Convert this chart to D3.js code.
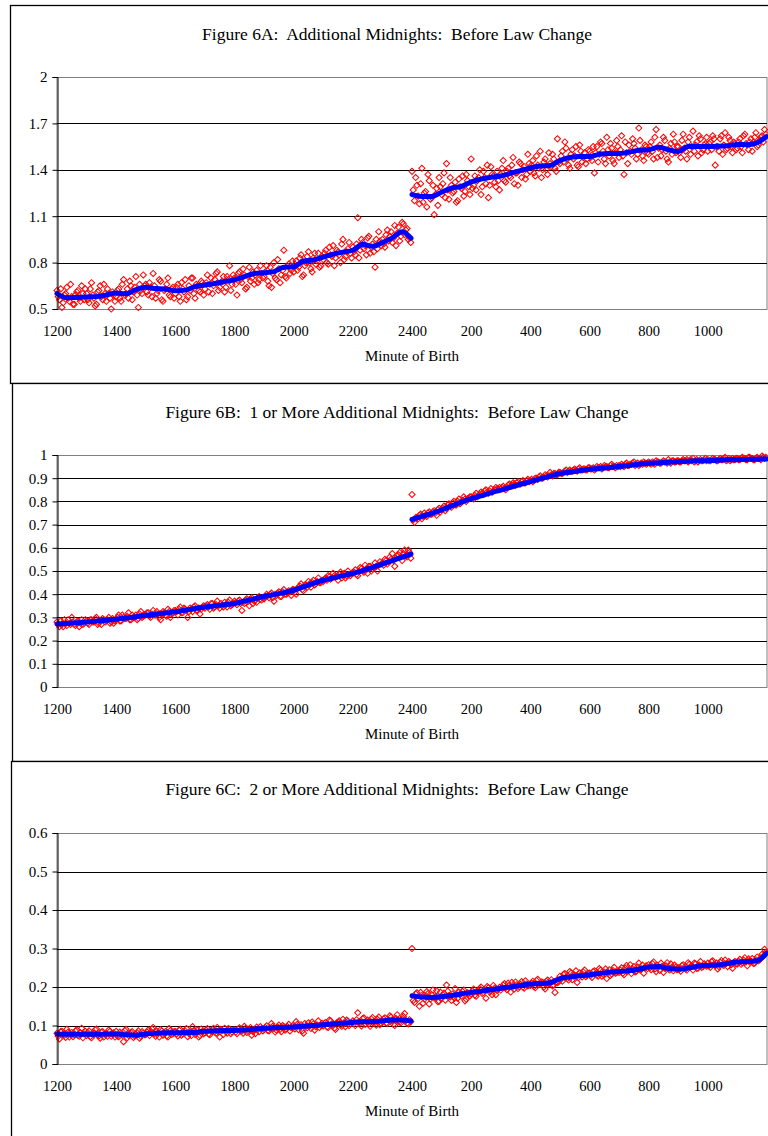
<!DOCTYPE html>
<html>
<head>
<meta charset="utf-8">
<script src="https://cdn.jsdelivr.net/npm/d3@7"></script>
<style>
body{margin:0;background:#fff;}
svg{display:block;}
text{font-family:"Liberation Serif","Times New Roman",serif;fill:#000;}
</style>
</head>
<body>
<svg></svg>
<script>
// minutes after noon, birth time axis runs noon to noon
var tickMinutes = [0,120,240,360,480,600,720,840,960,1080,1200,1320];
var tickLabels = ["1200","1400","1600","1800","2000","2200","2400","200","400","600","800","1000"];
var scatterMinutes = d3.range(0,1440,5);      // first set of points
var scatterMinutes2 = d3.range(2.5,1440,5);   // second set, between them
var lineMinutesBefore = d3.range(0,720,20).concat([718]);
var lineMinutesAfter = d3.range(720,1440,20).concat([1439]);
var xTitle = "Minute of Birth";

// figure 6A
var titleA = "Figure 6A:  Additional Midnights:  Before Law Change";
var yTicksA = [0.5,0.8,1.1,1.4,1.7,2];
var scatterA = [
  [0.62,0.56,0.51,0.59,0.64,0.55,0.58,0.53,0.61,0.57,0.65,0.56],
  [0.60,0.54,0.67,0.57,0.53,0.62,0.58,0.66,0.55,0.60,0.50,0.59],
  [0.58,0.63,0.55,0.69,0.60,0.57,0.65,0.61,0.71,0.51,0.62,0.72],
  [0.66,0.59,0.64,0.73,0.57,0.62,0.68,0.55,0.63,0.70,0.58,0.64],
  [0.60,0.66,0.55,0.63,0.69,0.58,0.62,0.70,0.57,0.65,0.61,0.67],
  [0.63,0.72,0.66,0.60,0.69,0.74,0.64,0.68,0.61,0.71,0.78,0.66],
  [0.70,0.59,0.74,0.67,0.72,0.64,0.77,0.70,0.66,0.75,0.69,0.73],
  [0.71,0.78,0.65,0.64,0.80,0.69,0.76,0.72,0.88,0.70,0.79,0.75],
  [0.74,0.81,0.77,0.85,0.72,0.80,0.87,0.76,0.83,0.79,0.86,0.78],
  [0.82,0.88,0.79,0.85,0.91,0.83,0.87,0.80,0.95,0.84,0.89,0.86],
  [0.90,0.85,1.09,0.88,0.93,0.91,0.96,0.86,0.92,0.77,0.89,0.94],
  [0.95,0.90,1.01,0.97,0.93,1.04,0.99,0.94,1.06,0.98,1.02,0.96],
  [1.39,1.20,1.30,1.18,1.41,1.25,1.16,1.33,1.22,1.11,1.28,1.35],
  [1.24,1.38,1.44,1.21,1.30,1.26,1.19,1.34,1.28,1.23,1.37,1.29],
  [1.47,1.30,1.27,1.35,1.24,1.39,1.31,1.22,1.42,1.36,1.29,1.33],
  [1.37,1.46,1.32,1.41,1.35,1.48,1.38,1.30,1.44,1.40,1.34,1.50],
  [1.39,1.46,1.36,1.43,1.52,1.40,1.47,1.37,1.44,1.50,1.41,1.60],
  [1.44,1.52,1.58,1.47,1.41,1.53,1.49,1.43,1.56,1.45,1.51,1.47],
  [1.52,1.46,1.38,1.55,1.50,1.57,1.47,1.61,1.49,1.54,1.44,1.59],
  [1.48,1.62,1.37,1.51,1.56,1.50,1.57,1.47,1.67,1.53,1.46,1.55],
  [1.50,1.58,1.47,1.66,1.54,1.49,1.61,1.52,1.45,1.57,1.63,1.51],
  [1.55,1.48,1.63,1.52,1.58,1.50,1.65,1.56,1.49,1.60,1.53,1.57],
  [1.52,1.58,1.62,1.43,1.55,1.60,1.50,1.64,1.54,1.59,1.51,1.57],
  [1.54,1.60,1.51,1.63,1.56,1.58,1.52,1.61,1.55,1.59,1.62,1.66]
];
var scatterA2 = [
  [0.58,0.63,0.54,0.60,0.57,0.66,0.53,0.59,0.62,0.55,0.60,0.63],
  [0.56,0.63,0.59,0.52,0.61,0.65,0.56,0.60,0.63,0.57,0.61,0.55],
  [0.62,0.57,0.66,0.59,0.63,0.68,0.56,0.64,0.59,0.66,0.60,0.65],
  [0.61,0.67,0.58,0.65,0.60,0.69,0.56,0.62,0.66,0.59,0.63,0.57],
  [0.64,0.58,0.67,0.61,0.56,0.65,0.70,0.60,0.66,0.62,0.68,0.59],
  [0.67,0.61,0.70,0.65,0.73,0.62,0.67,0.71,0.64,0.69,0.62,0.72],
  [0.66,0.73,0.69,0.76,0.63,0.71,0.68,0.74,0.72,0.67,0.78,0.70],
  [0.74,0.68,0.77,0.73,0.70,0.82,0.67,0.75,0.71,0.78,0.73,0.81],
  [0.79,0.75,0.83,0.71,0.78,0.84,0.80,0.74,0.86,0.81,0.77,0.84],
  [0.86,0.80,0.90,0.84,0.78,0.88,0.85,0.92,0.82,0.87,0.93,0.83],
  [0.87,0.92,0.83,0.95,0.89,0.85,0.97,0.90,0.87,0.95,1.00,0.91],
  [0.92,0.98,0.94,1.00,0.96,0.91,1.03,0.97,1.05,1.01,0.95,0.93],
  [1.27,1.35,1.23,1.31,1.19,1.26,1.37,1.21,1.30,1.24,1.17,1.29],
  [1.31,1.22,1.27,1.35,1.25,1.32,1.20,1.29,1.36,1.26,1.33,1.24],
  [1.28,1.36,1.33,1.40,1.29,1.35,1.43,1.30,1.37,1.32,1.39,1.27],
  [1.41,1.33,1.39,1.36,1.43,1.31,1.38,1.45,1.35,1.42,1.37,1.44],
  [1.43,1.38,1.49,1.41,1.35,1.45,1.40,1.51,1.42,1.47,1.39,1.45],
  [1.49,1.45,1.54,1.43,1.50,1.47,1.55,1.42,1.52,1.48,1.44,1.53],
  [1.48,1.55,1.51,1.45,1.58,1.52,1.44,1.53,1.57,1.46,1.51,1.55],
  [1.53,1.49,1.58,1.44,1.52,1.60,1.54,1.50,1.59,1.49,1.56,1.51],
  [1.55,1.52,1.61,1.48,1.56,1.53,1.59,1.47,1.54,1.50,1.58,1.55],
  [1.51,1.59,1.54,1.47,1.61,1.55,1.52,1.58,1.62,1.51,1.56,1.61],
  [1.57,1.53,1.60,1.55,1.52,1.62,1.56,1.53,1.61,1.55,1.58,1.53],
  [1.58,1.55,1.62,1.57,1.53,1.60,1.58,1.64,1.56,1.61,1.58,1.63]
];
var lineBeforeA = [0.60,0.572,0.575,0.578,0.58,0.59,0.603,0.598,0.625,0.64,0.632,0.63,
  0.618,0.622,0.645,0.655,0.665,0.678,0.688,0.71,0.73,0.735,0.742,0.77,
  0.773,0.81,0.817,0.835,0.855,0.868,0.88,0.918,0.905,0.93,0.96,1.0,0.958];
var lineAfterA = [1.24,1.228,1.228,1.255,1.282,1.292,1.322,1.34,1.352,1.36,1.378,1.395,
  1.412,1.425,1.428,1.46,1.48,1.486,1.486,1.5,1.505,1.505,1.515,1.526,
  1.53,1.545,1.53,1.518,1.55,1.55,1.55,1.552,1.556,1.564,1.562,1.575,1.615];

// figure 6B
var titleB = "Figure 6B:  1 or More Additional Midnights:  Before Law Change";
var yTicksB = [0,0.1,0.2,0.3,0.4,0.5,0.6,0.7,0.8,0.9,1];
var scatterB = [
  [.28,.26,.27,.29,.265,.275,.30,.27,.28,.26,.29,.275],
  [.285,.27,.29,.28,.30,.275,.27,.29,.285,.30,.28,.275],
  [.29,.31,.285,.30,.295,.32,.29,.30,.31,.295,.325,.305],
  [.31,.32,.30,.33,.31,.315,.29,.325,.31,.335,.30,.32],
  [.33,.31,.345,.32,.335,.30,.34,.325,.35,.33,.315,.345],
  [.34,.355,.335,.36,.345,.37,.34,.35,.365,.345,.375,.355],
  [.37,.355,.375,.33,.36,.38,.35,.385,.37,.365,.39,.375],
  [.38,.40,.385,.405,.37,.395,.41,.39,.42,.40,.415,.395],
  [.42,.40,.43,.445,.415,.44,.455,.43,.46,.445,.47,.45],
  [.455,.47,.48,.465,.49,.475,.46,.495,.485,.47,.50,.48],
  [.49,.505,.48,.515,.50,.525,.49,.52,.51,.535,.50,.54],
  [.535,.55,.53,.56,.575,.52,.565,.58,.545,.59,.56,.58],
  [.83,.71,.73,.74,.725,.75,.735,.755,.745,.76,.74,.77],
  [.765,.78,.77,.79,.775,.80,.785,.81,.795,.82,.80,.815],
  [.82,.81,.835,.825,.84,.83,.85,.835,.855,.845,.86,.85],
  [.855,.865,.85,.87,.865,.88,.87,.885,.875,.89,.88,.895],
  [.89,.885,.90,.895,.91,.90,.915,.905,.925,.91,.92,.915],
  [.925,.92,.93,.925,.935,.93,.94,.93,.945,.935,.94,.935],
  [.945,.94,.935,.95,.945,.94,.955,.95,.945,.96,.95,.955],
  [.955,.96,.95,.965,.955,.96,.97,.96,.955,.965,.97,.96],
  [.97,.96,.965,.975,.97,.965,.975,.97,.98,.965,.975,.97],
  [.975,.97,.98,.975,.97,.98,.985,.975,.97,.98,.975,.985],
  [.98,.975,.985,.98,.975,.985,.98,.99,.98,.975,.985,.98],
  [.985,.98,.99,.985,.98,.99,.985,.98,.99,.985,.995,.985]
];
var scatterB2 = [
  [.27,.285,.26,.275,.29,.27,.28,.265,.285,.275,.27,.29],
  [.275,.29,.28,.295,.27,.285,.295,.28,.29,.275,.295,.285],
  [.30,.285,.31,.295,.305,.29,.31,.30,.29,.315,.30,.31],
  [.32,.305,.315,.31,.325,.30,.315,.32,.305,.325,.315,.33],
  [.325,.335,.32,.34,.33,.325,.335,.345,.33,.34,.335,.35],
  [.35,.345,.36,.34,.355,.35,.36,.345,.355,.365,.35,.36],
  [.365,.37,.36,.365,.375,.37,.38,.36,.375,.385,.38,.385],
  [.39,.395,.40,.385,.40,.405,.39,.41,.40,.405,.41,.42],
  [.41,.425,.435,.42,.44,.43,.445,.45,.44,.455,.45,.46],
  [.465,.46,.475,.47,.48,.475,.485,.47,.49,.48,.485,.49],
  [.495,.485,.50,.51,.495,.51,.52,.50,.515,.52,.525,.53],
  [.525,.545,.54,.55,.545,.555,.57,.56,.575,.565,.59,.555],
  [.72,.73,.725,.745,.735,.74,.75,.745,.755,.75,.765,.755],
  [.77,.76,.785,.78,.795,.785,.80,.79,.805,.81,.81,.82],
  [.815,.825,.82,.83,.835,.845,.84,.845,.84,.85,.855,.86],
  [.86,.855,.86,.875,.87,.875,.88,.875,.885,.88,.89,.885],
  [.895,.89,.90,.905,.90,.905,.91,.91,.915,.92,.915,.925],
  [.92,.925,.935,.93,.93,.935,.935,.94,.935,.94,.935,.945],
  [.94,.945,.94,.945,.95,.945,.95,.945,.955,.95,.945,.95],
  [.95,.955,.96,.955,.96,.965,.955,.965,.96,.96,.965,.965],
  [.965,.97,.96,.97,.965,.97,.97,.965,.97,.975,.97,.975],
  [.97,.975,.975,.98,.975,.975,.97,.98,.975,.975,.98,.975],
  [.975,.98,.98,.975,.98,.98,.985,.975,.985,.98,.98,.985],
  [.98,.985,.985,.98,.99,.985,.98,.985,.985,.98,.99,.99]
];
var lineBeforeB = [.272,.274,.277,.280,.284,.288,.292,.297,.303,.309,.314,.319,
  .324,.331,.338,.345,.350,.355,.360,.370,.380,.390,.398,.407,
  .417,.432,.447,.460,.470,.480,.490,.502,.516,.530,.545,.560,.573];
var lineAfterB = [.722,.735,.748,.763,.780,.797,.812,.824,.837,.849,.861,.873,
  .885,.897,.909,.920,.926,.932,.938,.942,.946,.950,.955,.960,
  .964,.966,.969,.971,.973,.975,.976,.977,.979,.980,.981,.982,.983];

// figure 6C
var titleC = "Figure 6C:  2 or More Additional Midnights:  Before Law Change";
var yTicksC = [0,0.1,0.2,0.3,0.4,0.5,0.6];
var scatterC = [
  [.080,.065,.085,.075,.090,.070,.082,.076,.088,.072,.093,.078],
  [.074,.086,.068,.080,.091,.073,.083,.070,.079,.088,.072,.081],
  [.085,.071,.079,.058,.090,.074,.082,.069,.077,.086,.072,.080],
  [.076,.088,.083,.095,.072,.081,.089,.075,.084,.070,.087,.079],
  [.084,.073,.090,.079,.086,.071,.083,.097,.077,.088,.074,.085],
  [.081,.092,.076,.089,.084,.095,.070,.087,.093,.080,.090,.083],
  [.088,.079,.094,.085,.098,.082,.091,.075,.089,.096,.084,.092],
  [.090,.099,.086,.105,.093,.088,.101,.084,.097,.091,.103,.094],
  [.095,.110,.089,.102,.080,.098,.107,.092,.104,.097,.112,.100],
  [.099,.108,.095,.112,.104,.090,.109,.101,.116,.097,.111,.105],
  [.112,.100,.133,.106,.118,.103,.114,.098,.121,.108,.116,.102],
  [.110,.120,.105,.125,.113,.100,.128,.109,.117,.131,.106,.115],
  [.300,.160,.185,.150,.178,.168,.188,.156,.180,.172,.190,.163],
  [.170,.184,.205,.178,.165,.172,.160,.186,.176,.192,.168,.183],
  [.182,.195,.176,.190,.200,.185,.171,.198,.189,.204,.180,.194],
  [.192,.205,.198,.210,.187,.202,.213,.196,.207,.200,.216,.203],
  [.204,.215,.198,.220,.207,.212,.195,.218,.209,.203,.186,.211],
  [.228,.215,.235,.222,.240,.219,.231,.212,.237,.226,.244,.230],
  [.236,.225,.242,.231,.248,.228,.239,.222,.245,.234,.251,.237],
  [.238,.250,.232,.256,.244,.235,.253,.241,.262,.247,.236,.255],
  [.258,.245,.265,.240,.252,.262,.238,.255,.247,.260,.242,.251],
  [.250,.241,.258,.247,.263,.252,.244,.260,.249,.266,.253,.257],
  [.262,.251,.268,.255,.247,.264,.258,.270,.253,.263,.249,.266],
  [.260,.272,.263,.276,.255,.269,.274,.262,.278,.270,.285,.298]
];
var scatterC2 = [
  [.072,.084,.078,.069,.083,.077,.071,.086,.074,.081,.068,.085],
  [.082,.071,.076,.089,.075,.067,.084,.077,.072,.085,.078,.070],
  [.073,.083,.075,.087,.068,.079,.084,.073,.081,.067,.084,.076],
  [.083,.074,.091,.078,.085,.070,.086,.080,.073,.092,.077,.084],
  [.078,.088,.075,.083,.092,.079,.074,.087,.081,.070,.091,.079],
  [.088,.078,.085,.093,.080,.086,.090,.077,.084,.092,.079,.088],
  [.083,.091,.086,.080,.093,.087,.095,.084,.079,.090,.097,.086],
  [.095,.087,.092,.098,.083,.096,.090,.100,.088,.097,.086,.099],
  [.091,.103,.097,.086,.105,.094,.099,.109,.088,.101,.095,.106],
  [.106,.096,.114,.100,.093,.107,.112,.098,.105,.114,.100,.108],
  [.105,.115,.109,.099,.120,.111,.104,.117,.110,.101,.122,.106],
  [.117,.106,.114,.122,.103,.118,.111,.107,.124,.113,.104,.110],
  [.165,.182,.170,.186,.158,.176,.183,.169,.192,.175,.162,.187],
  [.180,.166,.189,.174,.182,.196,.171,.180,.188,.164,.185,.177],
  [.190,.179,.186,.196,.183,.193,.201,.187,.180,.197,.191,.199],
  [.198,.209,.193,.204,.212,.195,.206,.201,.214,.197,.208,.205],
  [.210,.201,.217,.206,.213,.200,.215,.208,.219,.205,.212,.214],
  [.221,.233,.226,.218,.236,.229,.242,.224,.232,.239,.227,.235],
  [.230,.240,.235,.228,.244,.233,.247,.238,.230,.243,.236,.241],
  [.244,.236,.249,.241,.258,.246,.239,.252,.245,.257,.250,.248],
  [.250,.261,.247,.256,.243,.254,.249,.263,.244,.252,.257,.245],
  [.246,.256,.251,.244,.259,.255,.262,.248,.257,.251,.260,.254],
  [.255,.266,.259,.262,.253,.269,.256,.261,.266,.258,.264,.260],
  [.267,.259,.270,.265,.273,.266,.261,.271,.268,.276,.280,.290]
];
var lineBeforeC = [.078,.077,.077,.077,.077,.078,.078,.076,.075,.078,.080,.081,
  .081,.082,.082,.085,.086,.087,.087,.088,.090,.093,.094,.095,
  .096,.098,.100,.102,.104,.106,.108,.110,.110,.112,.114,.114,.112];
var lineAfterC = [.177,.174,.173,.175,.178,.182,.186,.189,.193,.197,.200,.204,
  .208,.209,.211,.222,.226,.229,.232,.235,.238,.240,.242,.246,
  .252,.253,.248,.246,.249,.254,.256,.257,.261,.265,.266,.268,.288];

//layout of the three boxes
var screen = {width:768, height:1136};
var plotLeft = 57, plotRight = 767;

var panels = [
  {title:titleA, yTicks:yTicksA, scatter:scatterA, scatter2:scatterA2, before:lineBeforeA, after:lineAfterA,
   boxX:10.5, boxTop:5.5, boxBottom:383.5, titleY:40, plotTop:77, plotBottom:309},
  {title:titleB, yTicks:yTicksB, scatter:scatterB, scatter2:scatterB2, before:lineBeforeB, after:lineAfterB,
   boxX:12.5, boxTop:383.5, boxBottom:761.5, titleY:418, plotTop:455, plotBottom:687},
  {title:titleC, yTicks:yTicksC, scatter:scatterC, scatter2:scatterC2, before:lineBeforeC, after:lineAfterC,
   boxX:11.5, boxTop:761.5, boxBottom:1150, titleY:795, plotTop:833, plotBottom:1064}
];

var svg = d3.select('svg')
          .attr('width',screen.width)
          .attr('height',screen.height);

var xScale = d3.scaleLinear()
            .domain([0,1440])
            .range([plotLeft,plotRight]);

var diamond = d3.symbol().type(d3.symbolSquare).size(19);

var drawPanel = function(p)
{
  var g = svg.append('g').classed('panel',true);

  g.append('rect')
   .attr('x',p.boxX)
   .attr('y',p.boxTop)
   .attr('width',800)
   .attr('height',p.boxBottom-p.boxTop)
   .attr('fill','#fff')
   .attr('stroke','#000')
   .attr('stroke-width',1.3);

  g.append('text')
   .attr('x',397)
   .attr('y',p.titleY)
   .attr('text-anchor','middle')
   .style('font-size','17.5px')
   .style('white-space','pre')
   .text(p.title);

  var yScale = d3.scaleLinear()
              .domain(d3.extent(p.yTicks))
              .range([p.plotBottom,p.plotTop]);

  // plot area border
  g.append('rect')
   .attr('x',plotLeft)
   .attr('y',p.plotTop+0.5)
   .attr('width',plotRight-plotLeft)
   .attr('height',p.plotBottom-p.plotTop)
   .attr('fill','none')
   .attr('stroke','#808080');

  // gridlines
  g.selectAll('.grid')
   .data(p.yTicks.slice(1,-1))
   .enter()
   .append('line')
   .classed('grid',true)
   .attr('x1',plotLeft)
   .attr('x2',plotRight)
   .attr('y1',function(d){return Math.round(yScale(d))+0.5;})
   .attr('y2',function(d){return Math.round(yScale(d))+0.5;})
   .attr('stroke','#000');

  // points, two interleaved sets
  var pts = d3.merge(p.scatter).map(function(v,i)
  {
    return {m:scatterMinutes[i], v:v};
  }).concat(d3.merge(p.scatter2).map(function(v,i)
  {
    return {m:scatterMinutes2[i], v:v};
  }));
  g.append('g').selectAll('path')
   .data(pts)
   .enter()
   .append('path')
   .attr('d',diamond)
   .attr('transform',function(d)
   {
     return 'translate('+xScale(d.m)+','+yScale(d.v)+') rotate(45)';
   })
   .attr('fill','none')
   .attr('stroke','#ff0000')
   .attr('stroke-width',1);

  var line = d3.line()
              .x(function(d){return xScale(d.m);})
              .y(function(d){return yScale(d.v);})
              .curve(d3.curveMonotoneX);
  var segs = [
    lineMinutesBefore.map(function(m,i){return {m:m, v:p.before[i]};}),
    lineMinutesAfter.map(function(m,i){return {m:m, v:p.after[i]};})
  ];
  g.selectAll('.avg')
   .data(segs)
   .enter()
   .append('path')
   .classed('avg',true)
   .attr('d',line)
   .attr('fill','none')
   .attr('stroke','#0000ff')
   .attr('stroke-width',5)
   .attr('stroke-linejoin','round')
   .attr('stroke-linecap','round');

  var yAxis = d3.axisLeft(yScale)
                .tickValues(p.yTicks)
                .tickSize(5)
                .tickPadding(5)
                .tickFormat(function(d){return String(d);});
  var ya = g.append('g').classed('yAxis',true)
            .attr('transform','translate('+(plotLeft+0.5)+',0)')
            .call(yAxis);
  ya.select('.domain').attr('stroke','#000');
  ya.selectAll('text').style('font-size','15px').style('font-family','"Liberation Serif",serif');

  var xAxis = d3.axisBottom(xScale)
                .tickValues(tickMinutes)
                .tickSize(0)
                .tickPadding(17)
                .tickFormat(function(d,i){return tickLabels[i];});
  var xa = g.append('g').classed('xAxis',true)
            .attr('transform','translate(0,'+p.plotBottom+')')
            .call(xAxis);
  xa.select('.domain').remove();
  xa.selectAll('text').style('font-size','14.5px').style('font-family','"Liberation Serif",serif');

  g.append('text')
   .attr('x',(plotLeft+plotRight)/2)
   .attr('y',p.plotBottom+52)
   .attr('text-anchor','middle')
   .style('font-size','15px')
   .text(xTitle);
};

panels.forEach(drawPanel);
</script>
</body>
</html>
